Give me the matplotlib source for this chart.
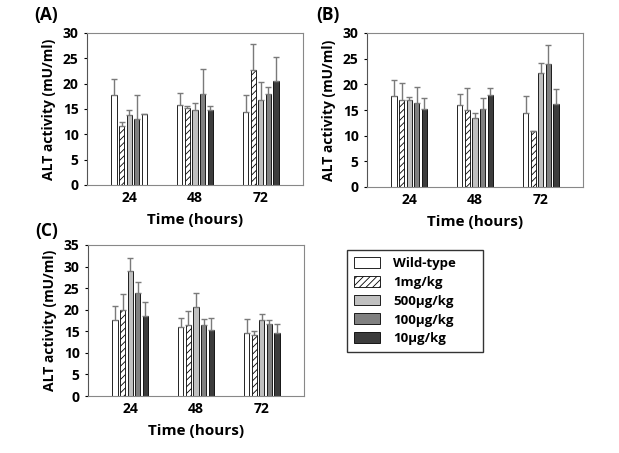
import numpy as np
import matplotlib.pyplot as plt

plt.rcParams['font.family'] = ['Open Sans', 'DejaVu Sans']
plt.rcParams['font.weight'] = 'bold'
plt.rcParams['hatch.linewidth'] = 0.6

times = ['24', '48', '72']
groups = ['Wild-type', '1mg/kg', '500µg/kg', '100µg/kg', '10µg/kg']

# panel A
a_mean = [[17.7, 15.8, 14.5], [11.6, 15.2, 22.6], [13.9, 14.9, 16.8],
          [13.1, 18.0, 17.9], [14.0, 14.9, 20.5]]
a_err = [[3.2, 2.3, 3.3], [0.9, 0.4, 5.3], [0.9, 1.3, 3.6],
         [4.6, 4.8, 1.4], [0.1, 0.7, 4.7]]
# panel B
b_mean = [[17.7, 15.9, 14.5], [17.0, 15.0, 10.9], [17.0, 13.5, 22.2],
          [16.4, 15.1, 23.9], [15.2, 17.9, 16.2]]
b_err = [[3.2, 2.2, 3.3], [3.3, 4.3, 0.0], [0.5, 0.9, 1.9],
         [3.1, 2.3, 3.7], [2.2, 1.3, 2.8]]
# panel C
c_mean = [[17.6, 15.9, 14.5], [19.9, 16.5, 14.2], [29.0, 20.6, 17.6],
          [23.8, 16.4, 16.8], [18.6, 15.2, 14.6]]
c_err = [[3.2, 2.2, 3.3], [3.7, 3.2, 0.9], [2.9, 3.3, 1.5],
         [2.7, 1.4, 0.9], [3.2, 2.9, 2.0]]

colors = ['white', 'white', '#c0c0c0', '#808080', '#3c3c3c']
hatches = ['', '/////', '', '', '']

fig = plt.figure(figsize=(6.19, 4.53), dpi=100)
W, H = 619, 453


def panel(rect, means, errs, ymax, letter, lab_xy, fix_white=False):
    x0, y0, x1, y1 = rect
    ax = fig.add_axes([x0 / W, 1 - y1 / H, (x1 - x0) / W, (y1 - y0) / H])
    x = np.arange(len(times))
    step = 0.115
    for i in range(len(groups)):
        bars = []
        for j in range(len(times)):
            c = colors[i]
            # in panel A the 24 h 10µg/kg bar is drawn unfilled
            if fix_white and i == 4 and j == 0:
                c = 'white'
            bars.append(c)
        ax.bar(x + (i - 2) * step, means[i], width=0.08, color=bars,
               edgecolor='black', linewidth=0.6, hatch=hatches[i],
               yerr=[np.zeros(3), errs[i]], ecolor='#7a7a7a',
               error_kw=dict(elinewidth=1.0, capsize=2, capthick=1.0),
               label=groups[i], zorder=2)
    ax.set_xlim(-0.64, 2.64)
    ax.set_ylim(0, ymax)
    ax.set_yticks(np.arange(0, ymax + 1, 5))
    ax.set_xticks(x)
    ax.set_xticklabels(times)
    ax.tick_params(axis='both', labelsize=10, length=0, pad=4)
    ax.tick_params(axis='y', length=2, direction='out')
    for s in ['top', 'right', 'bottom']:
        ax.spines[s].set_color('#888888')
        ax.spines[s].set_linewidth(0.8)
    ax.spines['left'].set_color('#555555')
    ax.set_ylabel('ALT activity (mU/ml)', fontsize=10, fontweight='bold',
                  labelpad=5)
    ax.set_xlabel('Time (hours)', fontsize=11, fontweight='bold', labelpad=6)
    ax.text(lab_xy[0], lab_xy[1], letter, transform=ax.transAxes,
            fontsize=12.5, fontweight='bold', ha='left', va='center')
    return ax


panel((87, 33, 303, 185), a_mean, a_err, 30, '(A)', (-0.245, 1.12),
      fix_white=True)
panel((367, 33, 583, 187), b_mean, b_err, 30, '(B)', (-0.235, 1.12))
axc = panel((88, 245, 304, 396), c_mean, c_err, 35, '(C)', (-0.245, 1.09))

handles, labels = axc.get_legend_handles_labels()
fig.legend(handles, labels, loc='upper left', mode='expand',
           bbox_to_anchor=(347 / W, 1 - 360 / H, 136 / W, 110 / H),
           frameon=True, fancybox=False, edgecolor='black', borderaxespad=0,
           handlelength=2.0, handleheight=0.9, labelspacing=0.45,
           handletextpad=1.0, borderpad=0.5,
           prop={'weight': 'bold', 'size': 9.5})

plt.savefig('out.png', dpi=100)
